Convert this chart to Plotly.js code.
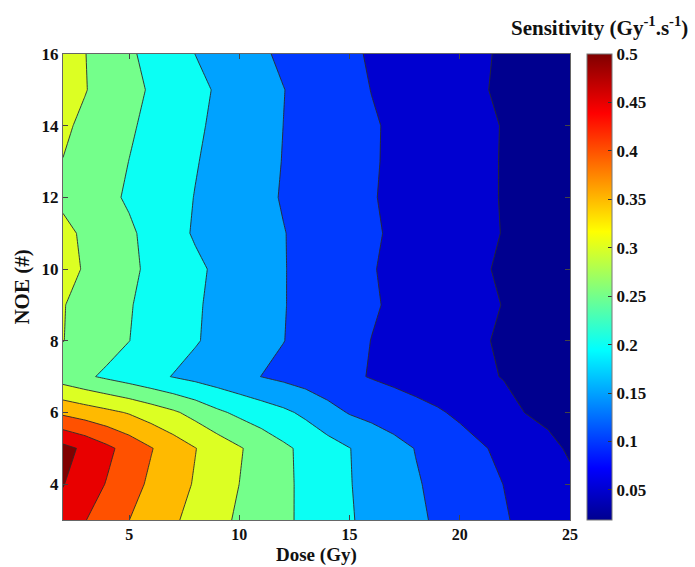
<!DOCTYPE html>
<html>
<head>
<meta charset="utf-8">
<script src="https://cdn.plot.ly/plotly-3.0.1.min.js"></script>
<style>html,body{margin:0;padding:0;background:#fff}#chart{width:695px;height:567px}</style>
</head>
<body>
<div id="chart"></div>
<script>
// ---- data ----
const dose = [2,3,4,5,6,7,8,9,10,11,12,13,14,15,16,17,18,19,20,21,22,23,24,25];
const noe = [3,4,5,6,7,8,9,10,11,12,13,14,15,16];

const noe3  = [0.48,0.4517,0.4258,0.4003,0.3783,0.3565,0.3348,0.313,0.2931,0.2759,0.2586,0.2407,0.2222,0.2037,0.1881,0.1731,0.1582,0.144,0.1307,0.1173,0.104,0.0896,0.0748,0.060];
const noe4  = [0.502,0.4743,0.4471,0.4182,0.3916,0.3689,0.3461,0.323,0.2998,0.2798,0.2595,0.2399,0.2209,0.2019,0.1858,0.1699,0.1541,0.14,0.1265,0.113,0.0994,0.0846,0.0698,0.055];
const noe5  = [0.515,0.4904,0.4605,0.4312,0.4023,0.3766,0.3513,0.3276,0.304,0.2814,0.259,0.2385,0.2192,0.201,0.1828,0.1655,0.1485,0.1337,0.1189,0.1041,0.0892,0.0741,0.056,0.047];
const noe6  = [0.39,0.3757,0.3614,0.3461,0.3267,0.3072,0.284,0.2586,0.2399,0.2245,0.2092,0.1905,0.1667,0.1469,0.1364,0.1259,0.1154,0.1049,0.092,0.077,0.062,0.0491,0.0445,0.040];
const noe7  = [0.275,0.2576,0.2418,0.2271,0.2124,0.1981,0.1861,0.1741,0.162,0.1495,0.1393,0.1287,0.118,0.1074,0.0974,0.089,0.0806,0.0723,0.0639,0.0556,0.0484,0.0436,0.0388,0.034];
const noe8  = [0.301,0.284,0.2672,0.2505,0.2347,0.2189,0.2032,0.1896,0.1767,0.1637,0.1508,0.1378,0.1249,0.1119,0.0993,0.0899,0.0806,0.0712,0.0619,0.0525,0.0461,0.0407,0.0354,0.030];
const noe9  = [0.302,0.2854,0.2692,0.2529,0.2369,0.2208,0.2048,0.1909,0.1778,0.1648,0.1517,0.1397,0.1279,0.1162,0.1044,0.0942,0.085,0.0758,0.0666,0.0574,0.0488,0.0425,0.0363,0.030];
const noe10 = [0.315,0.2963,0.2776,0.259,0.2414,0.2248,0.2083,0.1931,0.1793,0.1656,0.1518,0.1393,0.127,0.1147,0.1023,0.092,0.0822,0.0724,0.0626,0.0528,0.0461,0.0408,0.0354,0.030];
const noe11 = [0.31,0.2936,0.2755,0.2573,0.2364,0.2136,0.1956,0.1845,0.1735,0.1625,0.1514,0.1399,0.1283,0.1168,0.1052,0.0948,0.0855,0.0761,0.0667,0.0573,0.0486,0.0424,0.0362,0.030];
const noe12 = [0.292,0.276,0.2599,0.2442,0.229,0.2137,0.1987,0.1856,0.1726,0.1595,0.147,0.1359,0.1247,0.1136,0.1025,0.0928,0.0836,0.0745,0.0653,0.0561,0.048,0.042,0.036,0.030];
const noe13 = [0.299,0.2832,0.2663,0.2495,0.2339,0.2182,0.2025,0.1887,0.1753,0.1618,0.1487,0.1374,0.1262,0.115,0.1038,0.0938,0.0844,0.075,0.0656,0.0562,0.048,0.042,0.036,0.030];
const noe14 = [0.308,0.2905,0.2732,0.2559,0.2393,0.2231,0.2070,0.192,0.1779,0.1638,0.1498,0.1384,0.127,0.1156,0.1042,0.0941,0.0848,0.0755,0.0661,0.0568,0.0483,0.0422,0.0361,0.030];
const noe15 = [0.322,0.302,0.2826,0.2635,0.2452,0.2284,0.2117,0.1955,0.1807,0.1658,0.1509,0.1378,0.1249,0.1119,0.0992,0.0898,0.0803,0.0708,0.0614,0.0519,0.0458,0.0405,0.0353,0.030];
const noe16 = [0.320,0.301,0.279,0.257,0.237,0.218,0.1997,0.185,0.170,0.156,0.1425,0.1305,0.1186,0.1065,0.096,0.0875,0.0789,0.0703,0.0617,0.0531,0.0465,0.041,0.0355,0.030];

const xTicks = [5,10,15,20,25];
const yTicks = [4,6,8,10,12,14,16];
const cbTicks = [0.05,0.1,0.15,0.2,0.25,0.3,0.35,0.4,0.45,0.5];
const colorMin = 0.019, colorMax = 0.5;
const levelStart = 0.05, levelEnd = 0.5, levelStep = 0.05;

// ---- build ----
const sensitivity = [noe3,noe4,noe5,noe6,noe7,noe8,noe9,noe10,noe11,noe12,noe13,noe14,noe15,noe16];

const jetStops = [[0,[0,0,143]],[0.111,[0,0,255]],[0.365,[0,255,255]],[0.619,[255,255,0]],[0.873,[255,0,0]],[1,[128,0,0]]];
function jet(t){
  t = Math.max(0, Math.min(1, t));
  for (let i = 1; i < jetStops.length; i++) {
    const a = jetStops[i-1], b = jetStops[i];
    if (t <= b[0]) {
      const f = (t - a[0]) / (b[0] - a[0]);
      const c = a[1].map((v, j) => Math.round(v + f * (b[1][j] - v)));
      return 'rgb(' + c.join(',') + ')';
    }
  }
  return 'rgb(128,0,0)';
}
const jetScale = jetStops.map(s => [s[0], 'rgb(' + s[1].join(',') + ')']);

// MATLAB-style band colours: each band coloured by its lower level
const nBands = Math.round((levelEnd - levelStart) / levelStep) + 1;
const bandScale = [];
for (let k = 0; k <= nBands; k++) {
  const lower = k === 0 ? colorMin : levelStart + (k - 1) * levelStep;
  bandScale.push([k / nBands, jet((lower - colorMin) / (colorMax - colorMin))]);
}

const FONT = 'Liberation Serif, Times New Roman, serif';

const traces = [
  {
    type: 'heatmap', x: dose, y: noe, z: sensitivity,
    zmin: colorMin, zmax: colorMax, colorscale: jetScale,
    showscale: true, hoverinfo: 'skip',
    colorbar: {
      x: 1.0345, xanchor: 'left', xpad: 0, ypad: 0,
      y: 0.5, yanchor: 'middle', len: 1, lenmode: 'fraction',
      thickness: 25, outlinewidth: 1, outlinecolor: '#777',
      tickmode: 'array', tickvals: cbTicks, ticktext: cbTicks.map(String),
      ticks: 'inside', ticklen: 4, tickcolor: '#333',
      tickfont: {family: FONT, size: 17, color: '#111', weight: 'bold'}
    }
  },
  {
    type: 'contour', x: dose, y: noe, z: sensitivity,
    autocontour: false,
    contours: {start: levelStart, end: levelEnd, size: levelStep, coloring: 'fill', showlines: true},
    line: {color: '#2a2a2a', width: 0.9, smoothing: 0},
    colorscale: bandScale, showscale: false, hoverinfo: 'skip'
  }
];

const axisCommon = {
  ticks: 'inside', ticklen: 5, tickcolor: '#444', tickwidth: 1,
  showline: true, linecolor: '#666', linewidth: 1, mirror: 'ticks',
  showgrid: false, zeroline: false,
  tickfont: {family: FONT, size: 17, color: '#111', weight: 'bold'}
};

const layout = {
  width: 695, height: 567,
  margin: {l: 63, r: 125, t: 54, b: 47, pad: 0},
  paper_bgcolor: '#fff', plot_bgcolor: '#fff',
  font: {family: FONT, color: '#111'},
  xaxis: Object.assign({}, axisCommon, {
    range: [2, 25], tickmode: 'array', tickvals: xTicks,
    tickfont: {family: FONT, size: 16, color: '#111', weight: 'bold'}
  }),
  yaxis: Object.assign({}, axisCommon, {
    range: [3, 16], tickmode: 'array', tickvals: yTicks,
    title: {text: 'NOE (#)', font: {family: FONT, size: 21, color: '#111', weight: 'bold'}, standoff: 6}
  }),
  annotations: [
    {
      xref: 'paper', yref: 'paper', x: 1.058, y: 1.058,
      xanchor: 'center', yanchor: 'middle', showarrow: false,
      text: 'Sensitivity (Gy<sup>-1</sup>.s<sup>-1</sup>)',
      font: {family: FONT, size: 21, color: '#111', weight: 'bold'}
    },
    {
      xref: 'paper', yref: 'paper', x: 0.5, y: -0.0751,
      xanchor: 'center', yanchor: 'middle', showarrow: false, borderpad: 0,
      text: 'Dose (Gy)',
      font: {family: FONT, size: 19, color: '#111', weight: 'bold'}
    }
  ],
  showlegend: false
};

Plotly.newPlot('chart', traces, layout, {displayModeBar: false, staticPlot: true});
</script>
</body>
</html>
